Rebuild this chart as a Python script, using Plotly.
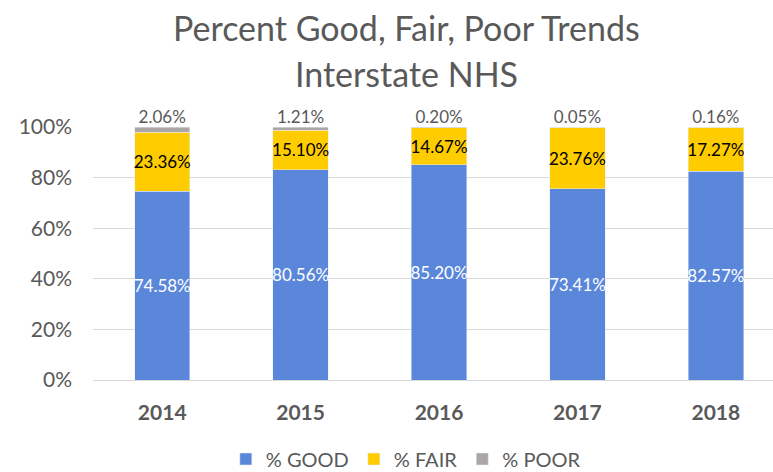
import plotly.graph_objects as go

years = ["2014", "2015", "2016", "2017", "2018"]
good = [74.58, 80.56, 85.20, 73.41, 82.57]
fair = [23.36, 15.10, 14.67, 23.76, 17.27]
poor = [2.06, 1.21, 0.20, 0.05, 0.16]
y_ticks = [0, 20, 40, 60, 80, 100]
y_tick_labels = ["0%", "20%", "40%", "60%", "80%", "100%"]
title_lines = ["Percent Good, Fair, Poor Trends", "Interstate NHS"]

FONT = "Lato"
GRAY = "#595959"
C_GOOD = "#5B87DA"
C_FAIR = "#FFCC00"
C_POOR = "#ADA6A6"

W, H = 773, 472
ML, MR, MT, MB = 93, 0, 127, 92
PW, PH = W - ML - MR, H - MT - MB


def fmt(v):
    return [f"{x:.2f}%" for x in v]


fig = go.Figure()
fig.add_trace(go.Bar(x=years, y=good, name="% GOOD", marker_color=C_GOOD,
                     text=fmt(good), textposition="inside", insidetextanchor="middle",
                     textangle=0, constraintext="none",
                     textfont=dict(color="white", size=17, family=FONT), width=0.4))
fig.add_trace(go.Bar(x=years, y=fair, name="% FAIR", marker_color=C_FAIR,
                     text=fmt(fair), textposition="inside", insidetextanchor="middle",
                     textangle=0, constraintext="none",
                     textfont=dict(color="black", size=17, family=FONT), width=0.4))
fig.add_trace(go.Bar(x=years, y=poor, name="% POOR", marker_color=C_POOR, width=0.4,
                     textposition="none"))
fig.add_trace(go.Scatter(x=years, y=[100] * len(years), mode="text", text=fmt(poor),
                         textposition="top center", showlegend=False, cliponaxis=False,
                         textfont=dict(color=GRAY, size=17, family=FONT)))

fig.update_layout(
    width=W, height=H,
    barmode="stack", barnorm="percent",
    paper_bgcolor="white", plot_bgcolor="white",
    margin=dict(l=ML, r=MR, t=MT, b=MB),
    font=dict(family=FONT, color=GRAY),
    showlegend=True,
    legend=dict(orientation="h", xref="container", yref="container",
                x=0.525, xanchor="center", y=1 - 459 / H, yanchor="middle",
                font=dict(size=20, color=GRAY, family=FONT), traceorder="normal"),
)
for line, cy in zip(title_lines, [27, 74]):
    fig.add_annotation(text=line, xref="paper", yref="paper",
                       x=(406 - ML) / PW, xanchor="center", y=1 + (MT - cy) / PH, yanchor="middle",
                       showarrow=False, font=dict(size=34, color=GRAY, family=FONT))

fig.update_xaxes(type="category", range=[-0.5, 4.413], showgrid=False,
                 showline=True, linecolor="#D9D9D9", linewidth=1, ticks="",
                 tickfont=dict(size=21, color=GRAY, family=FONT, weight="bold"), ticklabelstandoff=14)
fig.update_yaxes(range=[0, 100], tickvals=y_ticks, ticktext=y_tick_labels,
                 showgrid=True, gridcolor="#D9D9D9", gridwidth=1, zeroline=False,
                 tickfont=dict(size=21, color=GRAY, family=FONT), ticklabelstandoff=20)

fig.write_html("out.html", config={"displayModeBar": False},
               post_script="document.body.style.margin='0';document.body.style.overflow='hidden';")
